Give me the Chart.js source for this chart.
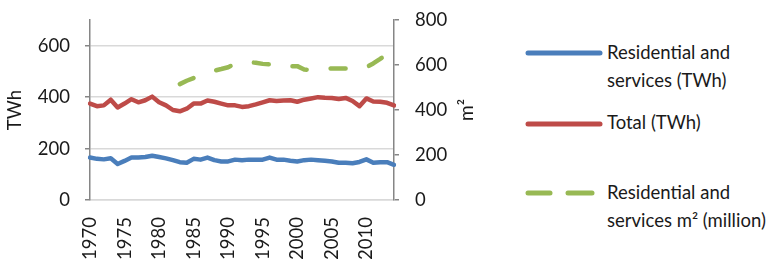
<!DOCTYPE html>
<html>
<head>
<meta charset="utf-8">
<script src="https://cdn.jsdelivr.net/npm/chart.js@4.4.1/dist/chart.umd.min.js"></script>
<style>
  html, body { margin: 0; padding: 0; background: #fff; }
  #wrap { position: relative; width: 777px; height: 259px; overflow: hidden; font-family: Lato, "Liberation Sans", sans-serif; color: #1a1a1a; }
  #c { position: absolute; left: 0; top: 0; }
  .leg { position: absolute; left: 607px; font-size: 18.5px; line-height: 28px; white-space: nowrap; }
  svg.sw { position: absolute; left: 520px; }
</style>
</head>
<body>
<div id="wrap">
  <canvas id="c" width="500" height="259" style="width:500px;height:259px"></canvas>
  <svg class="sw" style="top:43px" width="90" height="20"><line x1="8" y1="10" x2="80" y2="10" stroke="#4a7ebb" stroke-width="5" stroke-linecap="round"/></svg>
  <div class="leg" style="top:38px">Residential and<br>services (TWh)</div>
  <svg class="sw" style="top:114px" width="90" height="20"><line x1="8" y1="10" x2="80" y2="10" stroke="#be4b48" stroke-width="5" stroke-linecap="round"/></svg>
  <div class="leg" style="top:108px">Total (TWh)</div>
  <svg class="sw" style="top:183px" width="90" height="20"><line x1="8" y1="10" x2="30" y2="10" stroke="#98b954" stroke-width="5" stroke-linecap="round"/><line x1="48" y1="10" x2="72" y2="10" stroke="#98b954" stroke-width="5" stroke-linecap="round"/></svg>
  <div class="leg" style="top:178px">Residential and<br>services m² (million)</div>
</div>
<script>
const years = [];
for (let y = 1970; y <= 2014; y++) years.push(String(y));

const residentialTWh = [165,160,158,162,140,152,165,165,167,172,167,162,155,147,145,160,157,165,155,150,150,157,155,157,157,157,165,157,157,153,150,155,157,155,153,150,145,145,143,148,158,145,147,147,137];

const totalTWh = [375,365,368,390,360,375,392,380,388,402,380,368,350,345,355,375,375,387,382,375,368,368,362,365,372,380,388,385,387,388,382,390,395,400,398,397,393,397,385,365,395,383,382,378,368];

const residentialM2 = [null,null,null,null,null,null,null,null,null,null,null,null,null,515,530,542,553,565,575,582,590,605,612,612,610,605,603,595,592,595,595,580,578,580,582,585,585,585,581,583,590,607,627,648,668];

const leftTicks = [0, 200, 400, 600];
const rightTicks = [0, 200, 400, 600, 800];

const FONT = { family: 'Lato, "Liberation Sans", sans-serif', size: 18.5 };
const AXIS = '#868686';
const GRID = '#d9d9d9';
const TXT = '#1a1a1a';

const rightTitle = {
  id: 'rightTitle',
  afterDraw(chart) {
    const ctx = chart.ctx;
    ctx.save();
    ctx.translate(467, (chart.chartArea.top + chart.chartArea.bottom) / 2);
    ctx.rotate(-Math.PI / 2);
    ctx.font = '19px ' + FONT.family;
    ctx.fillStyle = TXT;
    ctx.textAlign = 'center';
    ctx.textBaseline = 'middle';
    ctx.fillText('m²', 0, 0);
    ctx.restore();
  }
};

new Chart(document.getElementById('c'), {
  type: 'line',
  data: {
    labels: years,
    datasets: [
      { label: 'Residential and services (TWh)', data: residentialTWh, yAxisID: 'y', borderColor: '#4a7ebb', borderWidth: 4.5, pointRadius: 0, tension: 0, borderJoinStyle: 'round', borderCapStyle: 'round' },
      { label: 'Total (TWh)', data: totalTWh, yAxisID: 'y', borderColor: '#be4b48', borderWidth: 4.5, pointRadius: 0, tension: 0, borderJoinStyle: 'round', borderCapStyle: 'round' },
      { label: 'Residential and services m² (million)', data: residentialM2, yAxisID: 'y1', borderColor: '#98b954', borderWidth: 4.5, pointRadius: 0, tension: 0, borderDash: [15, 24], borderJoinStyle: 'round', borderCapStyle: 'round', spanGaps: false }
    ]
  },
  options: {
    responsive: false,
    animation: false,
    devicePixelRatio: 1,
    layout: { padding: { top: 20, left: 0, right: 0, bottom: 0 } },
    plugins: { legend: { display: false }, tooltip: { enabled: false } },
    scales: {
      x: {
        offset: false,
        grid: { display: false, drawTicks: false },
        border: { display: true, color: GRID, width: 1.5 },
        ticks: {
          autoSkip: false, maxRotation: 90, minRotation: 90, padding: 17,
          color: TXT, font: FONT,
          callback: function(v, i) { const y = Number(years[i]); return y % 5 === 0 ? years[i] : ''; }
        },
        afterFit: s => { s.height = 59; s.paddingLeft = 0; s.paddingRight = 0; }
      },
      y: {
        position: 'left', min: 0, max: 700,
        afterBuildTicks: s => { s.ticks = [...leftTicks, 700].map(v => ({ value: v })); },
        grid: {
          color: ctx => (ctx.tick && ctx.tick.value === 700) ? 'rgba(0,0,0,0)' : GRID,
          tickColor: ctx => (ctx.tick && ctx.tick.value === 700) ? 'rgba(0,0,0,0)' : AXIS,
          lineWidth: 1.5, tickLength: 5, drawTicks: true
        },
        border: { display: true, color: AXIS, width: 1.5 },
        ticks: { color: TXT, font: FONT, padding: 15, callback: v => leftTicks.includes(v) ? String(v) : '' },
        title: { display: true, text: 'TWh', color: TXT, font: FONT, padding: { top: 4, bottom: 0 } },
        afterFit: s => { s.width = 90; s.paddingTop = 0; s.paddingBottom = 0; }
      },
      y1: {
        position: 'right', min: 0, max: 800,
        afterBuildTicks: s => { s.ticks = rightTicks.map(v => ({ value: v })); },
        grid: { drawOnChartArea: false, tickColor: AXIS, tickLength: 5, lineWidth: 1.5 },
        border: { display: true, color: AXIS, width: 1.5 },
        ticks: { color: TXT, font: FONT, padding: 16 },
        afterFit: s => { s.width = 106; s.paddingTop = 0; s.paddingBottom = 0; }
      }
    }
  },
  plugins: [rightTitle]
});
</script>
</body>
</html>
